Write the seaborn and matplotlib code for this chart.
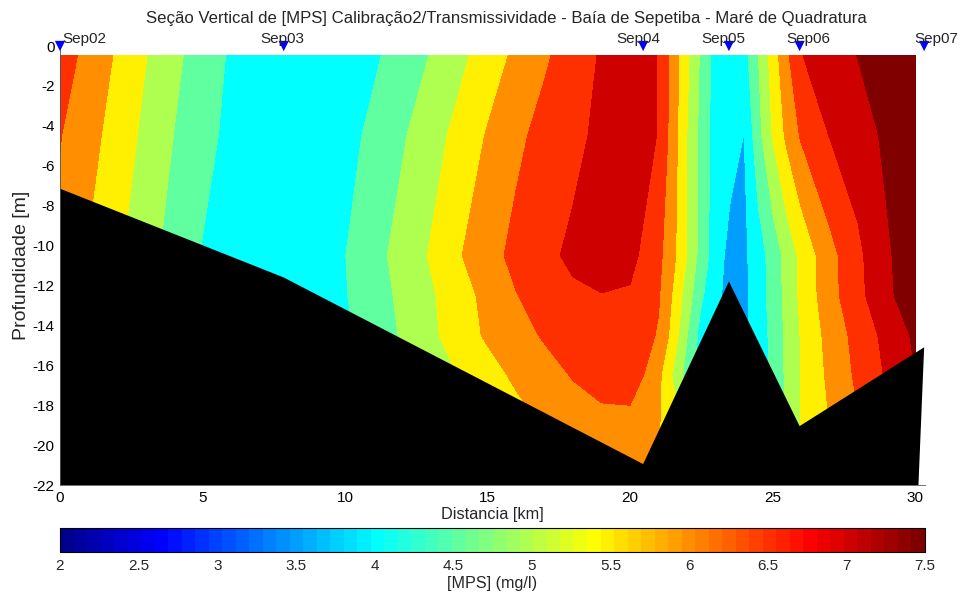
import numpy as np
import pandas as pd
import matplotlib
matplotlib.use("Agg")
import matplotlib.pyplot as plt
import seaborn as sns
from matplotlib.colors import ListedColormap, Normalize
from matplotlib.cm import ScalarMappable

# ---------------- data ----------------
stations = ["Sep02", "Sep03", "Sep04", "Sep05", "Sep06", "Sep07"]
station_x = [0.0, 7.85, 20.46, 23.47, 25.95, 30.32]          # km
station_bottom = [-7.15, -11.6, -20.95, -11.8, -19.05, -15.1]  # m

grid_x = [0, 1, 2, 3, 4, 5, 6, 7, 8, 9, 10, 11, 12, 13, 14, 15, 16, 17, 18, 19, 20,
          20.5, 21, 21.5, 22, 22.5, 23, 23.5, 24, 24.5, 25, 25.5, 26, 27, 28, 29, 30]
grid_depth = [-0.5, -4.5, -10.5, -12.5, -14.5, -16.5, -18.5, -21.0]

mps_d005 = [6.75, 6.34, 5.94, 5.52, 5.12, 4.75, 4.44, 4.30, 4.22, 4.20, 4.25, 4.42, 4.72, 5.02,
            5.37, 5.74, 6.10, 6.43, 6.74, 7.05, 7.20, 7.15, 6.98, 6.30, 5.60, 4.90, 4.30, 4.10,
            4.30, 4.99, 5.70, 6.40, 6.98, 7.25, 7.51, 7.65, 7.80]
mps_d045 = [6.52, 6.17, 5.79, 5.38, 4.99, 4.65, 4.38, 4.25, 4.20, 4.22, 4.33, 4.62, 4.94, 5.29,
            5.65, 6.04, 6.39, 6.66, 6.89, 7.10, 7.20, 7.12, 6.98, 6.25, 5.49, 4.83, 4.25, 4.20,
            3.99, 4.83, 5.52, 6.10, 6.55, 7.01, 7.29, 7.58, 7.85]
mps_d105 = [6.36, 5.96, 5.58, 5.18, 4.81, 4.47, 4.30, 4.20, 4.15, 4.20, 4.49, 4.83, 5.18, 5.54,
            5.96, 6.32, 6.63, 6.90, 7.08, 7.15, 7.08, 6.94, 6.63, 6.13, 5.49, 4.79, 4.24, 3.85,
            3.90, 4.27, 4.70, 5.18, 5.62, 6.33, 6.89, 7.44, 7.75]
mps_d125 = [6.30, 5.90, 5.51, 5.10, 4.75, 4.45, 4.28, 4.20, 4.15, 4.20, 4.47, 4.78, 5.10, 5.43,
            5.79, 6.14, 6.48, 6.70, 6.93, 6.99, 6.97, 6.75, 6.55, 5.95, 5.25, 4.57, 4.15, 3.80,
            3.88, 4.26, 4.68, 5.15, 5.60, 6.31, 6.86, 7.39, 7.80]
mps_d145 = [6.25, 5.85, 5.45, 5.05, 4.70, 4.42, 4.26, 4.18, 4.15, 4.20, 4.40, 4.75, 5.04, 5.39,
            5.75, 6.07, 6.31, 6.55, 6.70, 6.80, 6.75, 6.65, 6.45, 5.81, 5.01, 4.30, 4.02, 3.80,
            3.90, 4.20, 4.64, 5.11, 5.53, 6.17, 6.68, 7.14, 7.58]
mps_d165 = [6.20, 5.80, 5.40, 4.99, 4.65, 4.40, 4.25, 4.17, 4.15, 4.20, 4.35, 4.65, 4.95, 5.20,
            5.52, 5.80, 6.09, 6.31, 6.53, 6.68, 6.65, 6.49, 6.12, 5.45, 4.80, 4.30, 4.01, 3.80,
            3.90, 4.20, 4.62, 5.09, 5.52, 6.10, 6.60, 7.05, 7.49]
mps_d185 = [6.15, 5.75, 5.35, 4.95, 4.60, 4.38, 4.24, 4.16, 4.15, 4.20, 4.30, 4.55, 4.85, 5.10,
            5.35, 5.60, 5.85, 6.10, 6.30, 6.42, 6.45, 6.35, 6.05, 5.70, 5.20, 4.60, 4.10, 3.85,
            3.90, 4.20, 4.55, 5.10, 5.52, 6.02, 6.49, 6.98, 7.45]
mps_d210 = [6.10, 5.70, 5.30, 4.92, 4.58, 4.36, 4.23, 4.16, 4.15, 4.20, 4.28, 4.51, 4.80, 5.05,
            5.30, 5.55, 5.80, 6.02, 6.18, 6.26, 6.28, 6.20, 5.95, 5.60, 5.10, 4.55, 4.10, 3.85,
            3.90, 4.20, 4.55, 5.05, 5.48, 5.98, 6.45, 6.95, 7.40]

contour_levels = [3.5, 4.0, 4.5, 5.0, 5.5, 6.0, 6.5, 7.0, 7.5, 9.0]
clim = (2.0, 7.5)
cbar_ticks = [2, 2.5, 3, 3.5, 4, 4.5, 5, 5.5, 6, 6.5, 7, 7.5]
cbar_ticklabels = ["2", "2.5", "3", "3.5", "4", "4.5", "5", "5.5", "6", "6.5", "7", "7.5"]

title = "Seção Vertical de [MPS] Calibração2/Transmissividade - Baía de Sepetiba - Maré de Quadratura"

# ---------------- style ----------------
sns.set_style("white")
plt.rcParams["font.family"] = ["Liberation Sans", "DejaVu Sans"]
plt.rcParams["axes.unicode_minus"] = False
FS = 11


def matlab_jet(m=64):
    n = int(np.ceil(m / 4))
    u = np.concatenate([np.arange(1, n + 1) / n, np.ones(n - 1), np.arange(n, 0, -1) / n])
    g = int(np.ceil(n / 2)) - (1 if m % 4 == 1 else 0) + np.arange(1, len(u) + 1)
    r = g + n
    b = g - n
    J = np.zeros((m, 3))
    for col, idx in ((0, r), (1, g), (2, b)):
        ok = (idx >= 1) & (idx <= m)
        J[idx[ok] - 1, col] = u[ok]
    return J


jet64 = matlab_jet(64)
cmap = ListedColormap(jet64)


def level_color(v):
    i = int(np.fix((v - clim[0]) / (clim[1] - clim[0]) * 64))
    return jet64[min(max(i, 0), 63)]


band_colors = [level_color(v) for v in contour_levels[:-1]]

Z = np.array([mps_d005, mps_d045, mps_d105, mps_d125, mps_d145, mps_d165, mps_d185, mps_d210])
X = np.array(grid_x)
Y = np.array(grid_depth)

fig = plt.figure(figsize=(9.6, 5.93), dpi=100)
ax = fig.add_axes([60 / 960, 1 - 485 / 593, 865 / 960, 439 / 593])

ax.contourf(X, Y, Z, levels=contour_levels, colors=band_colors, antialiased=False, zorder=1)

bx = list(station_x) + [30.12, 0.0]
by = list(station_bottom) + [-22.0, -22.0]
ax.fill(bx, by, color="black", lw=0, zorder=3)

sdf = pd.DataFrame({"x": station_x, "y": [0.0] * len(station_x), "name": stations})
sns.scatterplot(data=sdf, x="x", y="y", marker="v", s=55, color="blue", edgecolor="none",
                ax=ax, clip_on=False, zorder=6, legend=False)

ax.set_xlim(0, 30.35)
ax.set_ylim(-22, 0)
ax.set_xticks([0, 5, 10, 15, 20, 25, 30])
ax.set_yticks(np.arange(-22, 1, 2))
ax.tick_params(direction="in", length=4, width=0.6, labelsize=FS, pad=4, colors="black")
for s in ("top", "right"):
    ax.spines[s].set_visible(False)
for s in ("left", "bottom"):
    ax.spines[s].set_linewidth(0.6)
    ax.spines[s].set_color("#555555")
    ax.spines[s].set_zorder(4)

ax.set_xlabel("Distancia [km]", fontsize=11.7, labelpad=2)
ax.set_ylabel("Profundidade [m]", fontsize=14, labelpad=2)

label_dx_px = [2, -23, -27, -28, -13, -10]
for name, x, dx in zip(stations, station_x, label_dx_px):
    ax.annotate(name, (x, 0), xytext=(dx * 0.72, 2.2), textcoords="offset points",
                ha="left", va="baseline", fontsize=FS, annotation_clip=False, zorder=7)

fig.text(506 / 960, 1 - 19 / 593, title, ha="center", va="center", fontsize=12.1)

# colorbar
cax = fig.add_axes([60 / 960, 1 - 552 / 593, 865 / 960, 24 / 593])
sm = ScalarMappable(norm=Normalize(*clim), cmap=cmap)
cb = fig.colorbar(sm, cax=cax, orientation="horizontal", ticks=cbar_ticks)
cb.set_ticklabels(cbar_ticklabels)
cb.outline.set_linewidth(0.8)
cb.outline.set_edgecolor("black")
cax.tick_params(direction="in", length=4, width=0.6, labelsize=FS, top=True, bottom=True, pad=5)
cb.set_label("[MPS] (mg/l)", fontsize=11.6, labelpad=2)

fig.savefig("out.png", dpi=100)
